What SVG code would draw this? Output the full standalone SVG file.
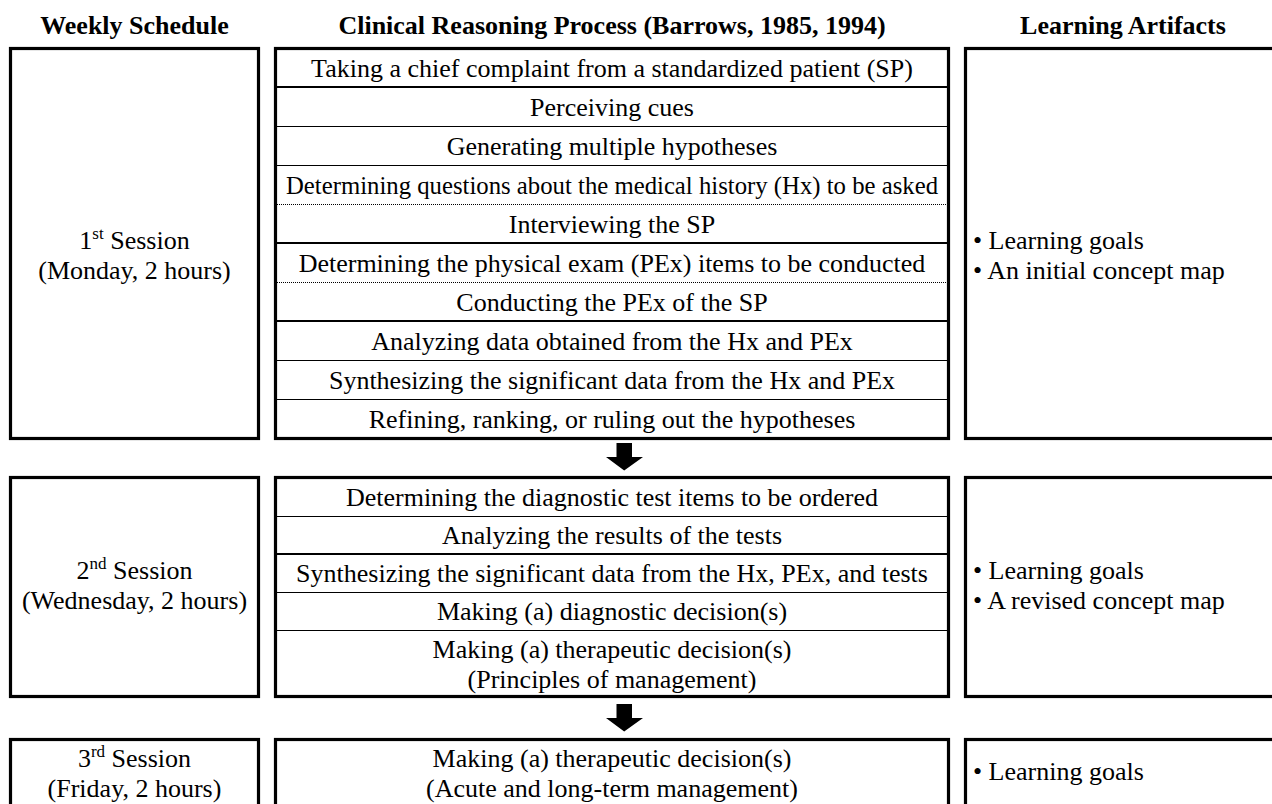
<svg xmlns="http://www.w3.org/2000/svg" width="1272" height="804" viewBox="0 0 1272 804">
<style>
text{font-family:"Liberation Serif","Times New Roman",serif;font-size:26px;fill:#000}
.h{font-weight:bold}
.c{text-anchor:middle}
.box{fill:#fff;stroke:#000;stroke-width:3.2}
.thin{stroke:#000;stroke-width:1}
.thick{stroke:#000;stroke-width:2}
.dot{stroke:#000;stroke-width:1;stroke-dasharray:1 1}
.sup{font-size:17px}
</style>
<rect width="1272" height="804" fill="#fff"/>
<g id="headers">
<text class="h c" x="134.5" y="34">Weekly Schedule</text>
<text class="h c" x="612" y="34">Clinical Reasoning Process (Barrows, 1985, 1994)</text>
<text class="h c" x="1123" y="34">Learning Artifacts</text>
</g>
<g id="session1">
<rect class="box" x="10.5" y="48.5" width="248" height="390"/>
<text class="c" x="134.5" y="249">1<tspan class="sup" dy="-10">st</tspan><tspan dy="10"> Session</tspan></text>
<text class="c" x="134.5" y="279">(Monday, 2 hours)</text>
</g>
<g id="process1">
<rect class="box" x="275.5" y="48.5" width="673" height="390"/>
<line class="thick" x1="277" y1="87" x2="947" y2="87"/>
<line class="thin" x1="277" y1="126.5" x2="947" y2="126.5"/>
<line class="thin" x1="277" y1="165.5" x2="947" y2="165.5"/>
<line class="dot" x1="277" y1="204.5" x2="947" y2="204.5"/>
<line class="thick" x1="277" y1="243" x2="947" y2="243"/>
<line class="dot" x1="277" y1="282.5" x2="947" y2="282.5"/>
<line class="thick" x1="277" y1="321" x2="947" y2="321"/>
<line class="thin" x1="277" y1="360.5" x2="947" y2="360.5"/>
<line class="thin" x1="277" y1="399.5" x2="947" y2="399.5"/>
<text class="c" x="612" y="77">Taking a chief complaint from a standardized patient (SP)</text>
<text class="c" x="612" y="116">Perceiving cues</text>
<text class="c" x="612" y="155">Generating multiple hypotheses</text>
<text class="c" x="612" y="194" textLength="652" lengthAdjust="spacingAndGlyphs">Determining questions about the medical history (Hx) to be asked</text>
<text class="c" x="612" y="233">Interviewing the SP</text>
<text class="c" x="612" y="272">Determining the physical exam (PEx) items to be conducted</text>
<text class="c" x="612" y="311">Conducting the PEx of the SP</text>
<text class="c" x="612" y="350">Analyzing data obtained from the Hx and PEx</text>
<text class="c" x="612" y="389">Synthesizing the significant data from the Hx and PEx</text>
<text class="c" x="612" y="428">Refining, ranking, or ruling out the hypotheses</text>
</g>
<g id="artifacts1">
<rect class="box" x="965.5" y="48.5" width="320" height="390"/>
<text x="973" y="249">• Learning goals</text>
<text x="973" y="279">• An initial concept map</text>
</g>
<g id="session2">
<rect class="box" x="10.5" y="477.5" width="248" height="219"/>
<text class="c" x="134.5" y="579">2<tspan class="sup" dy="-10">nd</tspan><tspan dy="10"> Session</tspan></text>
<text class="c" x="134.5" y="609">(Wednesday, 2 hours)</text>
</g>
<g id="process2">
<rect class="box" x="275.5" y="477.5" width="673" height="219"/>
<line class="thin" x1="277" y1="516.5" x2="947" y2="516.5"/>
<line class="thick" x1="277" y1="554" x2="947" y2="554"/>
<line class="thin" x1="277" y1="592.5" x2="947" y2="592.5"/>
<line class="thin" x1="277" y1="630.5" x2="947" y2="630.5"/>
<text class="c" x="612" y="506">Determining the diagnostic test items to be ordered</text>
<text class="c" x="612" y="544">Analyzing the results of the tests</text>
<text class="c" x="612" y="582">Synthesizing the significant data from the Hx, PEx, and tests</text>
<text class="c" x="612" y="620">Making (a) diagnostic decision(s)</text>
<text class="c" x="612" y="658">Making (a) therapeutic decision(s)</text>
<text class="c" x="612" y="688">(Principles of management)</text>
</g>
<g id="artifacts2">
<rect class="box" x="965.5" y="477.5" width="320" height="219"/>
<text x="973" y="579">• Learning goals</text>
<text x="973" y="609">• A revised concept map</text>
</g>
<g id="session3">
<rect class="box" x="10.5" y="739.5" width="248" height="80"/>
<text class="c" x="134.5" y="767">3<tspan class="sup" dy="-10">rd</tspan><tspan dy="10"> Session</tspan></text>
<text class="c" x="134.5" y="797">(Friday, 2 hours)</text>
</g>
<g id="process3">
<rect class="box" x="275.5" y="739.5" width="673" height="80"/>
<text class="c" x="612" y="767">Making (a) therapeutic decision(s)</text>
<text class="c" x="612" y="797">(Acute and long-term management)</text>
</g>
<g id="artifacts3">
<rect class="box" x="965.5" y="739.5" width="320" height="80"/>
<text x="973" y="780">• Learning goals</text>
</g>
<g id="connectors">
<path d="M616.5 443 H632 V457 H643 L624.2 470.5 L606 457 H616.5 Z" fill="#000"/>
<path d="M616.5 704 H632 V718 H643 L624.2 731.5 L606 718 H616.5 Z" fill="#000"/>
</g>
</svg>
